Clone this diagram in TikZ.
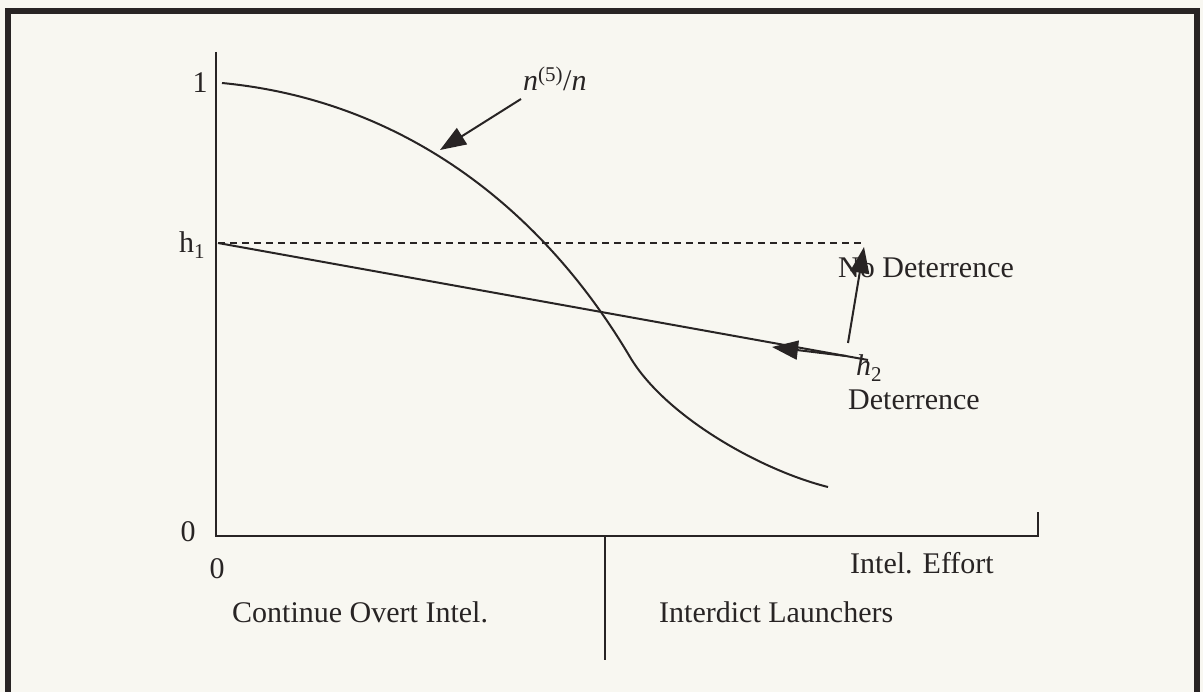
\documentclass[tikz,border=0pt]{standalone}
\usepackage{fontspec}
\setmainfont{Liberation Serif}
\usetikzlibrary{arrows.meta, positioning, calc}
\definecolor{paper}{RGB}{248,247,241}
\definecolor{ink}{RGB}{40,36,36}

\begin{document}
\begin{tikzpicture}[x=1pt,y=-1pt,
    lbl/.style={inner sep=0pt, font=\fontsize{30}{34}\selectfont, text=ink},
    curve/.style={ink, line width=2pt},
    pointer/.style={ink, line width=2pt, -{Triangle[length=26pt,width=19pt]}}]
        \useasboundingbox (0,0) rectangle (1203,692);
        \fill[paper] (0,0) rectangle (1203,692);
        \draw[ink, line width=6pt] (8,11) rectangle (1197,710);
        % axes
        \coordinate (top) at (216,52);
        \coordinate (origin) at (216,536);
        \coordinate (xend) at (1038,536);
        \coordinate (tick) at (1038,512);
        \draw[curve] (top) -- (origin) -- (xend) -- (tick);
        \coordinate (splitt) at (605,536);
        \coordinate (splitb) at (605,660);
        \draw[ink, line width=1.6pt] (splitt) -- (splitb);
        % axis labels
        \node[lbl] (one) at (200,83) {1};
        \node[lbl] (hone) at (192,245) {h\textsubscript{1}};
        \node[lbl] (zeroy) at (188,532) {0};
        \node[lbl] (zerox) at (217,569) {0};
        \node[lbl, anchor=west] (effort) at (850,563) {Intel. Effort};
        \node[lbl, anchor=west] (overt) at (232,612) {Continue Overt Intel.};
        \node[lbl, anchor=west] (interdict) at (659,612) {Interdict Launchers};
        % curves
        \coordinate (hstart) at (218,243);
        \coordinate (nodet) at (862,243);
        \coordinate (det) at (868,360);
        \coordinate (nstart) at (222,83);
        \coordinate (nmid) at (630,357);
        \coordinate (nend) at (828,487);
        \draw[ink, line width=1.6pt, dash pattern=on 7pt off 5pt] (hstart) -- (nodet);
        \draw[curve] (hstart) -- (det);
        \draw[curve] (nstart) .. controls (400,100) and (540,205) .. (nmid)
                     .. controls (665,416) and (760,470) .. (nend);
        % labels with pointers
        \node[lbl, anchor=base west] (ratio) at (523,91) {\textit{n}\textsuperscript{(5)}/\textit{n}};
        \coordinate (ratiotip) at (440,150);
        \draw[pointer] (521,99) -- (ratiotip);
        \node[lbl, anchor=base west] (nodlbl) at (838,278) {No Deterrence};
        \node[lbl, anchor=base west] (htwo) at (856,376) {\textit{h}\textsubscript{2}};
        \node[lbl, anchor=base west] (detlbl) at (848,410) {Deterrence};
        \coordinate (nodtip) at (864,247);
        \coordinate (dettip) at (772,347);
        \draw[pointer] (848,343) -- (nodtip);
        \draw[pointer] (846,356) -- (dettip);
\end{tikzpicture}
\end{document}
